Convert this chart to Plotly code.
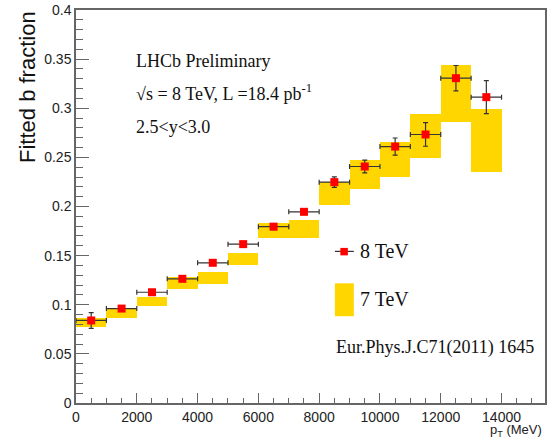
import plotly.graph_objects as go

# ---------------- data ----------------
bin_centers = [500, 1500, 2500, 3500, 4500, 5500, 6500, 7500, 8500, 9500, 10500, 11500, 12500, 13500]
bin_halfwidth = [500] * 14

frac_8tev = [0.0840, 0.0961, 0.1127, 0.1264, 0.1427, 0.1617, 0.1795, 0.1946,
             0.2248, 0.2407, 0.2610, 0.2733, 0.3306, 0.3113]
err_8tev = [0.0080, 0.0025, 0.0025, 0.0025, 0.0025, 0.0025, 0.0030, 0.0025,
            0.0054, 0.0064, 0.0087, 0.0120, 0.0129, 0.0168]

frac_7tev = [0.0819, 0.0913, 0.1033, 0.1219, 0.1273, 0.1465, 0.1758, 0.1772,
             0.2136, 0.2328, 0.2480, 0.2718, 0.3153, 0.2672]
err_7tev = [0.0046, 0.0048, 0.0046, 0.0060, 0.0060, 0.0065, 0.0079, 0.0093,
            0.0118, 0.0148, 0.0181, 0.0226, 0.0288, 0.0316]

x_ticks = [0, 2000, 4000, 6000, 8000, 10000, 12000, 14000]
y_ticks = [0, 0.05, 0.1, 0.15, 0.2, 0.25, 0.3, 0.35, 0.4]

# ---------------- layout helpers ----------------
W, H = 549, 441
L, R, T, B = 76, 547, 9, 403


def px(x):
    return (x - L) / (R - L)


def py(y):
    return (B - y) / (B - T)


GOLD = "#ffd600"
AXC = "#666666"
SERIF = "Liberation Serif, Times New Roman, serif"
SANS = "Liberation Sans, Arial, sans-serif"

fig = go.Figure()

# 7 TeV bands
fig.add_trace(go.Bar(
    x=bin_centers,
    y=[2 * e for e in err_7tev],
    base=[c - e for c, e in zip(frac_7tev, err_7tev)],
    width=[2 * w for w in bin_halfwidth],
    marker=dict(color=GOLD, line=dict(width=0)),
    showlegend=False,
    hoverinfo="skip",
))

# 8 TeV points
fig.add_trace(go.Scatter(
    x=bin_centers,
    y=frac_8tev,
    mode="markers",
    marker=dict(symbol="square", size=8, color="#ff0000", line=dict(width=0)),
    error_y=dict(type="data", array=err_8tev, color="#333333", thickness=1.2, width=2.5),
    error_x=dict(type="data", array=bin_halfwidth, color="#333333", thickness=1.2, width=2.5),
    showlegend=False,
))

# ---------------- text ----------------
annotations = [
    dict(text="LHCb Preliminary", x=px(134), y=py(60), xanchor="left", yanchor="middle",
         font=dict(family=SERIF, size=18, color="#111")),
    dict(text="√s = 8 TeV, L =18.4 pb<sup>-1</sup>", x=px(134), y=py(92), xanchor="left",
         yanchor="middle", font=dict(family=SERIF, size=18, color="#111")),
    dict(text="2.5&lt;y&lt;3.0", x=px(134), y=py(126), xanchor="left", yanchor="middle",
         font=dict(family=SERIF, size=18, color="#111")),
    dict(text="8 TeV", x=px(359), y=py(251), xanchor="left", yanchor="middle",
         font=dict(family=SERIF, size=20, color="#111")),
    dict(text="7 TeV", x=px(359), y=py(299), xanchor="left", yanchor="middle",
         font=dict(family=SERIF, size=20, color="#111")),
    dict(text="Eur.Phys.J.C71(2011) 1645", x=px(335), y=py(347), xanchor="left",
         yanchor="middle", font=dict(family=SERIF, size=18, color="#111")),
    dict(text="Fitted b fraction", x=px(28), y=py(86), xanchor="center", yanchor="middle",
         textangle=-90, font=dict(family=SANS, size=22, color="#111")),
    dict(text="p<sub>T</sub> (MeV)", x=px(546), y=py(431), xanchor="right", yanchor="middle",
         font=dict(family=SANS, size=13, color="#222")),
]
for a in annotations:
    a.update(xref="paper", yref="paper", showarrow=False)

# legend glyphs
shapes = [
    dict(type="line", x0=px(336), x1=px(355), y0=py(251), y1=py(251),
         line=dict(color="#333333", width=1.2)),
    dict(type="rect", x0=px(341.5), x1=px(349), y0=py(247.5), y1=py(255),
         fillcolor="#ff0000", line=dict(width=0)),
    dict(type="rect", x0=px(336), x1=px(355), y0=py(283), y1=py(316),
         fillcolor=GOLD, line=dict(width=0)),
]
for s in shapes:
    s.update(xref="paper", yref="paper")

fig.update_layout(
    width=W, height=H,
    margin=dict(l=L, r=W - R, t=T, b=H - B),
    paper_bgcolor="white", plot_bgcolor="white",
    barmode="overlay", bargap=0,
    annotations=annotations,
    shapes=shapes,
    font=dict(family=SANS, color="#222"),
)

fig.update_xaxes(
    range=[0, 15430],
    tickvals=x_ticks, ticktext=[str(v) for v in x_ticks],
    ticks="inside", ticklen=10, tickwidth=1.2, tickcolor=AXC,
    minor=dict(dtick=500, tick0=0, ticks="inside", ticklen=5, tickwidth=1.2, tickcolor=AXC),
    showline=True, linecolor=AXC, linewidth=1.5, mirror=True,
    showgrid=False, zeroline=False,
    tickfont=dict(family=SANS, size=14, color="#222"),
)
fig.update_yaxes(
    range=[0, 0.4],
    tickvals=y_ticks, ticktext=["0", "0.05", "0.1", "0.15", "0.2", "0.25", "0.3", "0.35", "0.4"],
    ticks="inside", ticklen=13, tickwidth=1.2, tickcolor=AXC,
    minor=dict(dtick=0.01, tick0=0, ticks="inside", ticklen=7, tickwidth=1.2, tickcolor=AXC),
    showline=True, linecolor=AXC, linewidth=1.5, mirror=True,
    showgrid=False, zeroline=False,
    tickfont=dict(family=SANS, size=14, color="#222"),
)

fig.write_html(
    "out.html",
    config={"displayModeBar": False},
    post_script="document.body.style.margin='0';document.body.style.overflow='hidden';",
)
